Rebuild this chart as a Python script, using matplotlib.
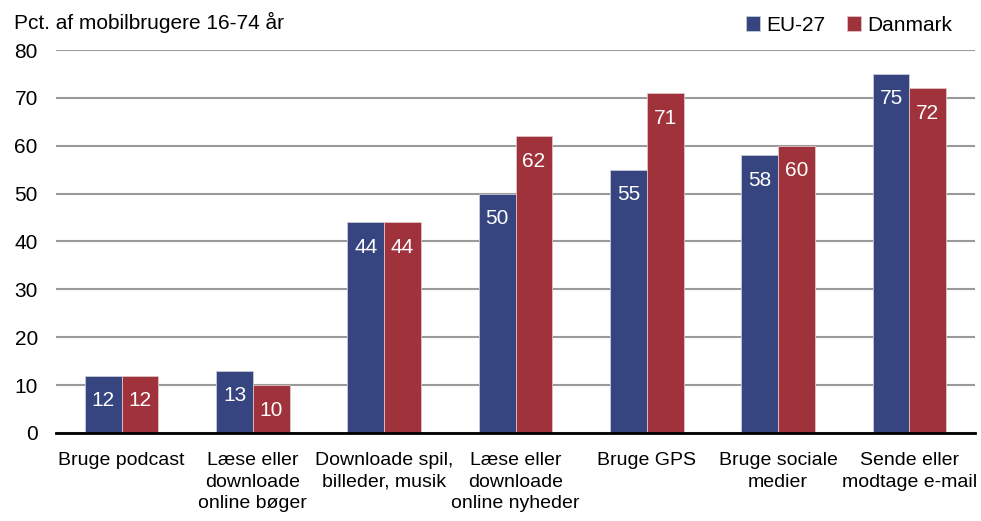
import numpy as np
import matplotlib.pyplot as plt

categories = [
    "Bruge podcast",
    "Læse eller\ndownloade\nonline bøger",
    "Downloade spil,\nbilleder, musik",
    "Læse eller\ndownloade\nonline nyheder",
    "Bruge GPS",
    "Bruge sociale\nmedier",
    "Sende eller\nmodtage e-mail",
]
eu27 = [12, 13, 44, 50, 55, 58, 75]
danmark = [12, 10, 44, 62, 71, 60, 72]
yticks = [0, 10, 20, 30, 40, 50, 60, 70, 80]

plt.rcParams["font.family"] = ["Liberation Sans", "DejaVu Sans"]

BLUE = "#36457f"
RED = "#a0323b"

fig = plt.figure(figsize=(9.81, 5.21), dpi=100)
ax = fig.add_axes([0.057, 0.169, 0.937, 0.735])

x = np.arange(len(categories))
w = 0.28
b1 = ax.bar(x - w / 2, eu27, w, color=BLUE, edgecolor="#c8cad8", linewidth=0.6, label="EU-27", zorder=3)
b2 = ax.bar(x + w / 2, danmark, w, color=RED, edgecolor="#e0c4c6", linewidth=0.6, label="Danmark", zorder=3)

# value labels inside the bars, just below the top
for bars, vals in ((b1, eu27), (b2, danmark)):
    for rect, v in zip(bars, vals):
        ax.annotate(str(v), (rect.get_x() + rect.get_width() / 2, v),
                    xytext=(0, -18), textcoords="offset points",
                    ha="center", va="center", color="white", fontsize=15, zorder=4)

ax.set_xlim(-0.5, len(categories) - 0.5)
ax.set_ylim(0, 80)
ax.set_yticks(yticks)
ax.set_xticks(x)
ax.set_xticklabels(categories, fontsize=14, linespacing=1.35)
ax.tick_params(axis="y", labelsize=15, length=0, pad=13)
ax.tick_params(axis="x", length=0, pad=14)

ax.grid(axis="y", color="#9a9a9a", linewidth=1.5, zorder=0)
for s in ("top", "right", "left"):
    ax.spines[s].set_visible(False)
ax.spines["bottom"].set_linewidth(2)
ax.spines["bottom"].set_color("black")
ax.spines["bottom"].set_zorder(5)

fig.text(0.014, 0.957, "Pct. af mobilbrugere 16-74 år", fontsize=15, va="center")
fig.legend(handles=[b1, b2], loc="center right", bbox_to_anchor=(0.99, 0.952), ncol=2,
           frameon=False, fontsize=15, handlelength=0.7, handleheight=0.7,
           handletextpad=0.3, columnspacing=1.0)

fig.savefig("out.png", dpi=100)
